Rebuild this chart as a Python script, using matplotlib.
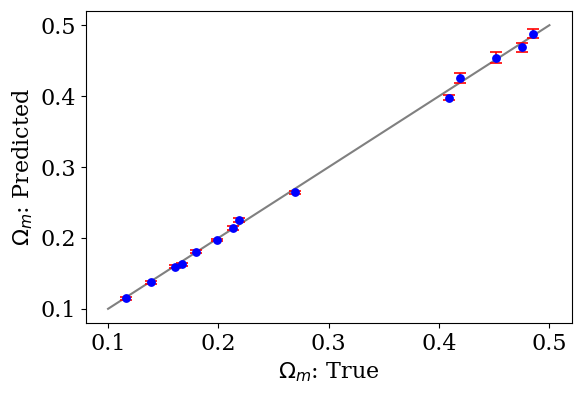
import matplotlib
matplotlib.use("Agg")
import matplotlib.pyplot as plt

true_vals = [0.1164, 0.1388, 0.1603, 0.1672, 0.1800, 0.1988, 0.2130, 0.2185,
             0.2697, 0.4090, 0.4185, 0.4515, 0.4750, 0.4855]
pred_vals = [0.1147, 0.1372, 0.1594, 0.1626, 0.1808, 0.1971, 0.2142, 0.2248,
             0.2645, 0.3980, 0.4255, 0.4540, 0.4690, 0.4880]
pred_err = [0.002, 0.002, 0.002, 0.002, 0.002, 0.002, 0.003, 0.003,
            0.002, 0.004, 0.0075, 0.0075, 0.0065, 0.006]
line_x = [0.1, 0.5]
xticks = [0.1, 0.2, 0.3, 0.4, 0.5]
yticks = [0.1, 0.2, 0.3, 0.4, 0.5]

plt.rcParams['font.family'] = ['DejaVu Serif']
plt.rcParams['font.size'] = 16

fig = plt.figure(figsize=(5.81, 3.96), dpi=100)
ax = fig.add_axes([86/581, 1-323/396, (571.5-86)/581, (323-11)/396])

ax.plot(line_x, line_x, color='gray', lw=1.5, zorder=1)
ax.errorbar(true_vals, pred_vals, yerr=pred_err, fmt='o', color='blue',
            ecolor='red', markersize=5.3, capsize=4, elinewidth=1.2,
            capthick=1.2, zorder=2)

ax.set_xticks(xticks)
ax.set_yticks(yticks)
ax.set_xlabel(r'$\Omega_m$: True')
ax.set_ylabel(r'$\Omega_m$: Predicted')

fig.savefig('out.png', dpi=100)
